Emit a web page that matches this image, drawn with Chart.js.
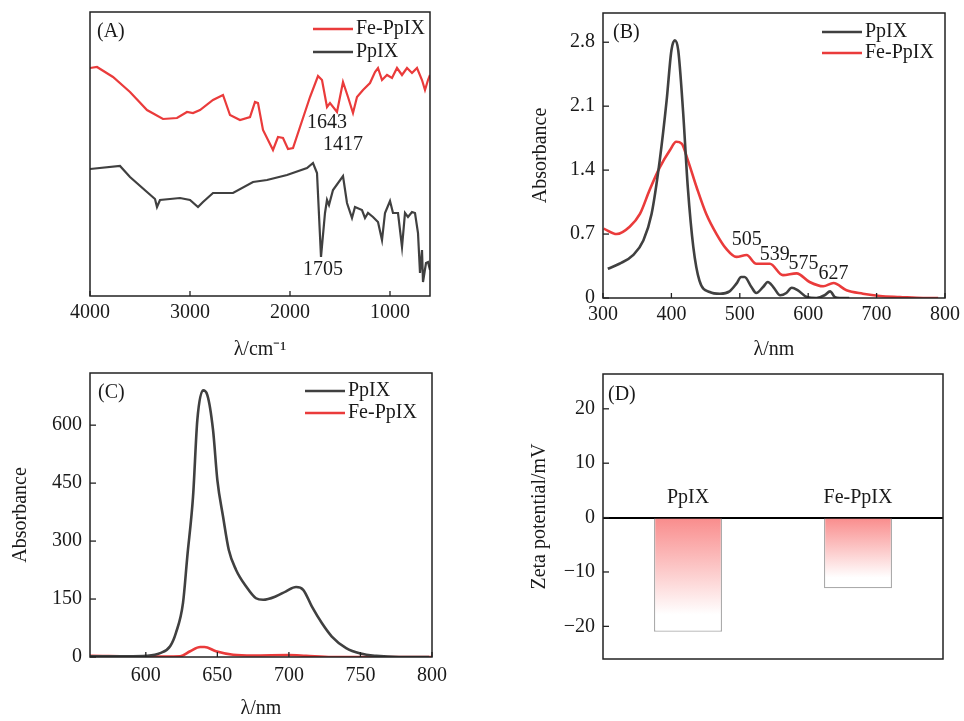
<!DOCTYPE html>
<html><head><meta charset="utf-8">
<script src="https://cdn.jsdelivr.net/npm/chart.js@4/dist/chart.umd.min.js"></script>
<style>
html,body{margin:0;padding:0;background:#fff;width:964px;height:721px;overflow:hidden}
canvas{position:absolute}
</style></head><body>
<canvas id="cA" style="left:0;top:0" width="440" height="370"></canvas>
<canvas id="cB" style="left:520px;top:0" width="444" height="370"></canvas>
<canvas id="cC" style="left:0;top:370px" width="460" height="351"></canvas>
<canvas id="cD" style="left:520px;top:370px" width="444" height="351"></canvas>
<script>
// ---------- DATA ----------
// (A) FTIR, wavenumber (cm-1) and relative transmittance (arb.)
const ftirWnFe = [4000,3930,3770,3600,3430,3270,3130,3030,2970,2900,2770,2670,2600,2500,2400,2350,2320,2270,2170,2120,2070,2020,1970,1900,1800,1720,1680,1630,1600,1530,1470,1420,1370,1330,1270,1200,1150,1120,1080,1030,980,930,880,830,780,730,680,650,620,600];
const ftirFe   = [228,229,219,204,186,177,178,184,183,186,196,201,181,176,179,194,193,166,146,159,158,147,148,169,199,220,216,189,193,184,214,199,183,199,206,213,224,228,216,221,218,228,221,228,223,228,216,206,216,221];
const ftirWnPp = [4000,3700,3600,3430,3350,3330,3300,3200,3100,3000,2920,2870,2770,2570,2370,2230,2030,1830,1770,1730,1690,1650,1630,1610,1570,1470,1430,1380,1350,1280,1250,1220,1170,1120,1080,1050,1000,970,920,880,850,820,780,750,720,700,680,670,640,620,600];
const ftirPp   = [127,130,119,104,97,89,96,97,98,96,89,94,103,103,114,116,121,128,133,123,39,83,96,91,106,120,93,78,89,86,78,83,79,74,56,83,95,83,83,49,83,79,84,83,63,23,46,14,33,34,26];
const ftirTicks = [4000,3000,2000,1000];
const ftirPeaks = [{t:'1643',x:1630,y:173},{t:'1417',x:1470,y:151},{t:'1705',x:1670,y:26}];

// (B) UV-vis absorbance
const uvWlPp  = [307,324,344,359,371,383,393,400,405,410,417,424,432,441,456,471,485,495,502,507,517,524,534,541,549,559,568,576,585,598,612,624,632,639,646,660];
const uvPp    = [0.32,0.375,0.47,0.63,0.92,1.51,2.16,2.71,2.82,2.71,2.05,1.21,0.56,0.19,0.066,0.047,0.073,0.157,0.23,0.23,0.12,0.055,0.12,0.175,0.12,0.03,0.055,0.113,0.084,0.011,0,0.03,0.073,0.01,0,0];
const uvWlFe  = [301,320,339,354,368,383,398,407,415,424,437,451,466,480,495,510,524,544,563,583,602,622,637,656,680,705,734,768,790];
const uvFe    = [0.76,0.70,0.78,0.92,1.18,1.43,1.62,1.71,1.69,1.51,1.21,0.92,0.70,0.54,0.45,0.47,0.375,0.375,0.25,0.27,0.175,0.128,0.164,0.084,0.047,0.022,0.011,0,0];
const uvXTicks = [300,400,500,600,700,800];
const uvYTicks = [0,0.7,1.4,2.1,2.8];
const uvPeaks = [{t:'505',x:510,y:0.64},{t:'539',x:551,y:0.47},{t:'575',x:593,y:0.38},{t:'627',x:637,y:0.27}];

// (C) fluorescence
const flWlPp = [561,591,600,610,617,621,626,629,633,636,640,643,647,650,654,658,663,670,677,682,691,698,705,710,716,723,730,740,750,761,777,798];
const flPp   = [2,2,3,10,28,62,140,260,415,613,690,678,587,458,363,277,226,183,152,148,157,170,181,174,131,88,53,23,9,3,0,0];
const flWlFe = [561,600,624,631,638,641,649,661,675,700,712,730,800];
const flFe   = [3,1,2,15,26,26,15,6,4,5,3,0,0];
const flXTicks = [600,650,700,750,800];
const flYTicks = [0,150,300,450,600];

// (D) zeta potential
const zetaCats = ['PpIX','Fe-PpIX'];
const zetaVals = [-21,-13];
const zetaTicks = [-20,-10,0,10,20];

// ---------- STYLE ----------
const FONT = "'Liberation Serif','Times New Roman',serif";
const BLACK = '#404040', RED = '#ea3b3b', TXT = '#1a1a1a';
Chart.defaults.font.family = FONT;
Chart.defaults.font.size = 20;
Chart.defaults.color = TXT;

const pts = (xs, ys) => xs.map((x,i)=>({x:x, y:ys[i]}));
const fixTicks = arr => (scale) => { scale.ticks = arr.map(v=>({value:v})); };
const fitY = w => (s) => { s.width = w; s.paddingTop = 0; s.paddingBottom = 0; };
const fitX = h => (s) => { s.height = h; s.paddingLeft = 0; s.paddingRight = 0; };
const plain = v => String(v);

const framePlugin = {
  id: 'frame',
  afterDraw(chart, args, o) {
    const {ctx, chartArea:a} = chart;
    ctx.save();
    ctx.strokeStyle = '#222'; ctx.lineWidth = 1.5;
    ctx.strokeRect(a.left, a.top, a.right-a.left, a.bottom-a.top);
    ctx.lineWidth = 1.3;
    if (o.xTicks) for (const v of o.xTicks) {
      const p = chart.scales.x.getPixelForValue(v);
      ctx.beginPath(); ctx.moveTo(p, a.bottom); ctx.lineTo(p, a.bottom-5); ctx.stroke();
    }
    if (o.yTicks) for (const v of o.yTicks) {
      const p = chart.scales.y.getPixelForValue(v);
      ctx.beginPath(); ctx.moveTo(a.left, p); ctx.lineTo(a.left+6, p); ctx.stroke();
    }
    ctx.font = '20px ' + FONT; ctx.fillStyle = TXT; ctx.textBaseline = 'middle'; ctx.textAlign = 'left';
    if (o.label) ctx.fillText(o.label[0], o.label[1], o.label[2]);
    if (o.legend) {
      o.legend.items.forEach((it, i) => {
        const y = o.legend.y + i*o.legend.dy;
        ctx.strokeStyle = it.c; ctx.lineWidth = 2.5;
        ctx.beginPath(); ctx.moveTo(o.legend.x, y); ctx.lineTo(o.legend.x+40, y); ctx.stroke();
        ctx.fillText(it.t, o.legend.x+43, y);
      });
    }
    if (o.notes) {
      ctx.textAlign = 'center';
      for (const n of o.notes) ctx.fillText(n.t, chart.scales.x.getPixelForValue(n.x), chart.scales.y.getPixelForValue(n.y));
    }
    if (o.catLabels) {
      ctx.textAlign = 'center';
      o.catLabels.forEach((t,i) => ctx.fillText(t, chart.scales.x.getPixelForValue(i), chart.scales.y.getPixelForValue(o.catY)));
    }
    ctx.restore();
  }
};

const noBorder = {display:false};

// ---------- (A) ----------
new Chart(document.getElementById('cA'), {
  type: 'line',
  data: { datasets: [
    {label:'Fe-PpIX', data: pts(ftirWnFe, ftirFe), borderColor: RED, borderWidth: 2.2, pointRadius: 0, tension: 0},
    {label:'PpIX', data: pts(ftirWnPp, ftirPp), borderColor: BLACK, borderWidth: 2.2, pointRadius: 0, tension: 0}
  ]},
  options: {
    responsive:false, animation:false, devicePixelRatio:1,
    layout:{padding:{left:90, top:12, right:10, bottom:0}},
    scales: {
      x: {type:'linear', reverse:true, min:600, max:4000, grid:{display:false, drawTicks:false}, border:noBorder,
          afterBuildTicks: fixTicks(ftirTicks), afterFit: fitX(74),
          ticks:{padding:5, maxRotation:0, autoSkip:false, callback:plain},
          title:{display:true, text:'λ/cm⁻¹', padding:{top:0,bottom:8}}},
      y: {display:false, min:0, max:284}
    },
    plugins: {legend:{display:false}, tooltip:{enabled:false},
      frame:{xTicks:ftirTicks, label:['(A)',97,32],
        legend:{x:313, y:29, dy:23, items:[{t:'Fe-PpIX',c:RED},{t:'PpIX',c:BLACK}]}, notes:ftirPeaks}}
  },
  plugins:[framePlugin]
});

// ---------- (B) ----------
new Chart(document.getElementById('cB'), {
  type: 'line',
  data: { datasets: [
    {label:'PpIX', data: pts(uvWlPp, uvPp), borderColor: BLACK, borderWidth: 2.6, pointRadius: 0, cubicInterpolationMode:'monotone'},
    {label:'Fe-PpIX', data: pts(uvWlFe, uvFe), borderColor: RED, borderWidth: 2.6, pointRadius: 0, cubicInterpolationMode:'monotone'}
  ]},
  options: {
    responsive:false, animation:false, devicePixelRatio:1,
    layout:{padding:{left:0, top:13, right:19, bottom:0}},
    scales: {
      x: {type:'linear', min:300, max:800, grid:{display:false, drawTicks:false}, border:noBorder,
          afterBuildTicks: fixTicks(uvXTicks), afterFit: fitX(72),
          ticks:{padding:5, maxRotation:0, autoSkip:false, callback:plain},
          title:{display:true, text:'λ/nm', padding:{top:0,bottom:8}}},
      y: {type:'linear', min:0, max:3.12, grid:{display:false, drawTicks:false}, border:noBorder,
          afterBuildTicks: fixTicks(uvYTicks), afterFit: fitY(83),
          ticks:{padding:8, callback:plain},
          title:{display:true, text:'Absorbance', padding:{top:9,bottom:0}}}
    },
    plugins: {legend:{display:false}, tooltip:{enabled:false},
      frame:{xTicks:uvXTicks, yTicks:uvYTicks, label:['(B)',93,33],
        legend:{x:302, y:32, dy:21, items:[{t:'PpIX',c:BLACK},{t:'Fe-PpIX',c:RED}]}, notes:uvPeaks}}
  },
  plugins:[framePlugin]
});

// ---------- (C) ----------
new Chart(document.getElementById('cC'), {
  type: 'line',
  data: { datasets: [
    {label:'PpIX', data: pts(flWlPp, flPp), borderColor: BLACK, borderWidth: 2.6, pointRadius: 0, cubicInterpolationMode:'monotone'},
    {label:'Fe-PpIX', data: pts(flWlFe, flFe), borderColor: RED, borderWidth: 2.6, pointRadius: 0, cubicInterpolationMode:'monotone'}
  ]},
  options: {
    responsive:false, animation:false, devicePixelRatio:1,
    layout:{padding:{left:0, top:3, right:28, bottom:0}},
    scales: {
      x: {type:'linear', min:561, max:800, grid:{display:false, drawTicks:false}, border:noBorder,
          afterBuildTicks: fixTicks(flXTicks), afterFit: fitX(64),
          ticks:{padding:7, maxRotation:0, autoSkip:false, callback:plain},
          title:{display:true, text:'λ/nm', padding:{top:0,bottom:0}}},
      y: {type:'linear', min:0, max:735, grid:{display:false, drawTicks:false}, border:noBorder,
          afterBuildTicks: fixTicks(flYTicks), afterFit: fitY(90),
          ticks:{padding:8, callback:plain},
          title:{display:true, text:'Absorbance', padding:{top:9,bottom:0}}}
    },
    plugins: {legend:{display:false}, tooltip:{enabled:false},
      frame:{xTicks:flXTicks, yTicks:flYTicks, label:['(C)',98,23],
        legend:{x:305, y:21, dy:22, items:[{t:'PpIX',c:BLACK},{t:'Fe-PpIX',c:RED}]}}}
  },
  plugins:[framePlugin]
});

// ---------- (D) ----------
new Chart(document.getElementById('cD'), {
  type: 'bar',
  data: { labels: zetaCats, datasets: [{
    label:'Zeta', data: zetaVals,
    backgroundColor: (c) => {
      const ch = c.chart; if (!ch.chartArea) return '#f99';
      const y = ch.scales.y;
      const g = ch.ctx.createLinearGradient(0, y.getPixelForValue(0), 0, y.getPixelForValue(c.raw));
      g.addColorStop(0, 'rgb(249,140,140)');
      g.addColorStop(0.45, 'rgb(252,200,200)');
      g.addColorStop(0.85, 'rgb(255,255,255)');
      g.addColorStop(1, 'rgb(255,255,255)');
      return g;
    },
    borderColor:'#ababab', borderWidth:1.3, borderSkipped:'start',
    barPercentage:0.4, categoryPercentage:1.0
  }]},
  options: {
    responsive:false, animation:false, devicePixelRatio:1,
    layout:{padding:{left:0, top:4, right:21, bottom:62}},
    scales: {
      x: {type:'category', display:false, offset:true},
      y: {type:'linear', min:-26, max:26.4, border:noBorder,
          grid:{drawTicks:false, lineWidth:2, color:c => c.tick && c.tick.value===0 ? '#000' : 'rgba(0,0,0,0)'},
          afterBuildTicks: fixTicks(zetaTicks), afterFit: fitY(83),
          ticks:{padding:8, callback:v=> v<0 ? '−'+Math.abs(v) : String(v)},
          title:{display:true, text:'Zeta potential/mV', padding:{top:8,bottom:0}}}
    },
    plugins: {legend:{display:false}, tooltip:{enabled:false},
      frame:{yTicks:zetaTicks, label:['(D)',88,25], catLabels:zetaCats, catY:3.7}}
  },
  plugins:[framePlugin]
});
</script>
</body></html>
